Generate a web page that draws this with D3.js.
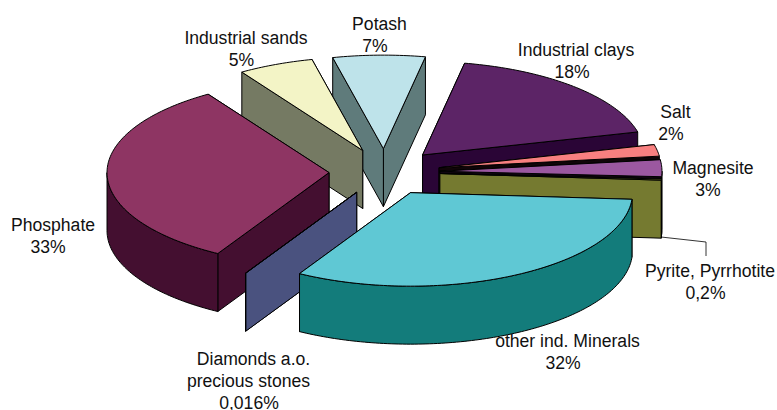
<!DOCTYPE html>
<html>
<head>
<meta charset="utf-8">
<script src="https://cdn.jsdelivr.net/npm/d3@7"></script>
<style>
html,body{margin:0;padding:0;background:#fff;overflow:hidden}
svg{display:block}
text{font-family:"Liberation Sans",Arial,sans-serif;font-size:17.6px;fill:#111}
</style>
</head>
<body>
<svg id="c" width="777" height="410"></svg>
<script>
// clockwise from the start angle
const categories = ["Industrial sands","Potash","Industrial clays","Salt","Magnesite","Pyrite, Pyrrhotite","other ind. Minerals","Diamonds a.o. precious stones","Phosphate"];
const values = [5.5,6.7,18,2,2.9,0.2,32.2,0.016,32.484];
const valueLabels = ["5%","7%","18%","2%","3%","0,2%","32%","0,016%","33%"];
const topColors = ["#f3f4c6","#bee3ea","#5c2466","#f88080","#9b58a0","#757a30","#5fc8d4","#4a527f","#8e3563"];
const sideColors = ["#757a63","#5f7b7b","#2a0536","#100508","#100510","#757a30","#137c7b","#4a527f","#440f30"];
const paintOrder = [1,0,2,3,4,5,8,7,6];
const labelLines = [
  [[categories[0],246,44],[valueLabels[0],241.5,66]],
  [[categories[1],379.5,30],[valueLabels[1],375,52]],
  [[categories[2],576,56],[valueLabels[2],572,78]],
  [[categories[3],675.5,118],[valueLabels[3],671,140]],
  [[categories[4],713,174],[valueLabels[4],708,196]],
  [[categories[5],710,277],[valueLabels[5],705.5,299]],
  [[categories[6],567.5,347],[valueLabels[6],563,369]],
  [["Diamonds a.o.",253.5,365],["precious stones",248.5,387],[valueLabels[7],249,409]],
  [[categories[8],53,231],[valueLabels[8],48,253]]
];
const leader = [[661,237],[706,242],[706,256]];

const cx=384.5, cy=172, rx=222, ry=93.5, depth=58, explode=0.25;
const svg=d3.select("#c");
const rad=d=>d*Math.PI/180;
const pie=d3.pie().sort(null).startAngle(rad(-33)).endAngle(rad(327));
const arcs=pie(values);
const line=d3.line();
const G=svg.append("g");

function drawPoly(pts,fill){
  G.append("path").attr("d",line(pts)+"Z").attr("fill",fill)
   .attr("stroke","#000").attr("stroke-width",1).attr("stroke-linejoin","round");
}
paintOrder.forEach(i=>{
  const a=arcs[i];
  const mid=(a.startAngle+a.endAngle)/2;
  const ox=cx+explode*rx*Math.sin(mid), oy=cy-explode*ry*Math.cos(mid);
  const P=(t,z=0)=>[ox+rx*Math.sin(t),oy-ry*Math.cos(t)+z];
  const sample=(t0,t1)=>{
    const n=Math.max(2,Math.ceil(Math.abs(t1-t0)/rad(1)));
    return d3.range(n+1).map(k=>t0+(t1-t0)*k/n);
  };
  // radial walls, the nearer one last
  const radial=[a.startAngle,a.endAngle].sort((p,q)=>P(p)[1]-P(q)[1]);
  radial.forEach(t=>{
    drawPoly([[ox,oy],P(t),P(t,depth),[ox,oy+depth]],sideColors[i]);
  });
  // outer wall, front half only
  const t0=Math.max(a.startAngle,rad(90)), t1=Math.min(a.endAngle,rad(270));
  if(t1>t0){
    const ts=sample(t0,t1);
    drawPoly(ts.map(t=>P(t)).concat(ts.slice().reverse().map(t=>P(t,depth))),sideColors[i]);
  }
  // top
  const top=[[ox,oy]].concat(sample(a.startAngle,a.endAngle).map(t=>P(t)));
  drawPoly(top,topColors[i]);
});

svg.append("path").attr("d",line(leader)).attr("fill","none").attr("stroke","#000").attr("stroke-width",0.8);

labelLines.forEach(ls=>ls.forEach(l=>{
  svg.append("text").attr("x",l[1]).attr("y",l[2]).attr("text-anchor","middle").text(l[0]);
}));
</script>
</body>
</html>
